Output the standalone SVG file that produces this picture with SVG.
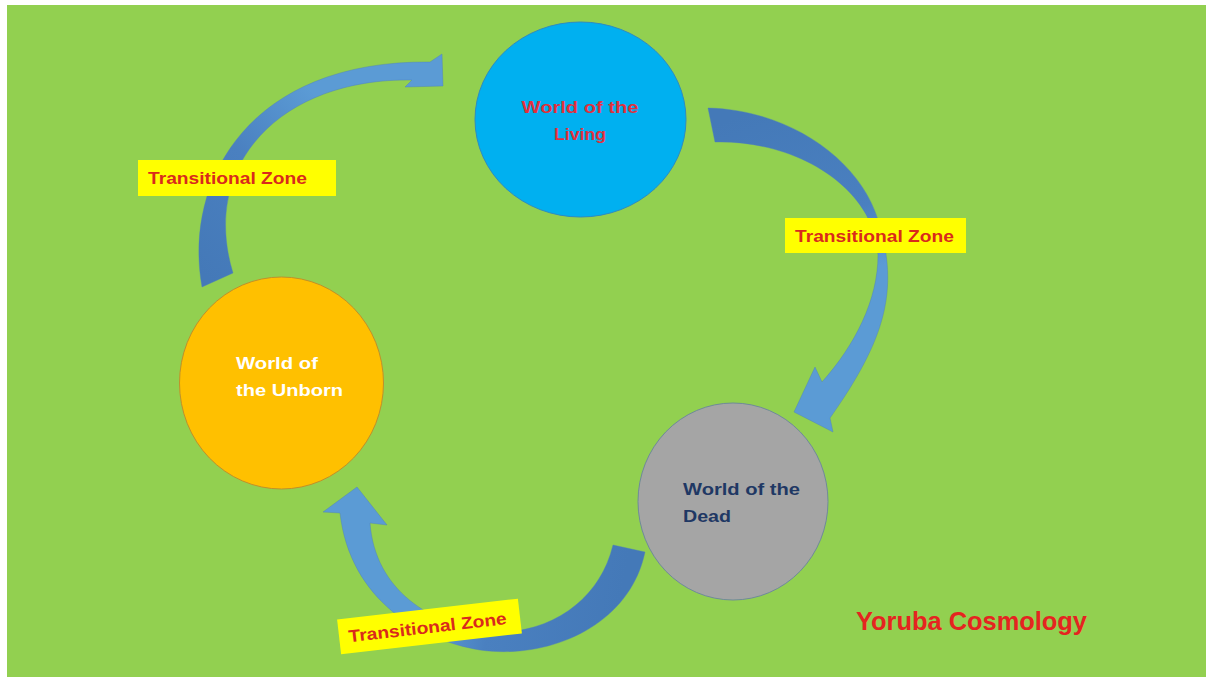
<svg xmlns="http://www.w3.org/2000/svg" width="1206" height="679" viewBox="0 0 1206 679">
<style>
.node{stroke-width:1}
.lbl{fill:#ffff00}
.lt{font-family:"Liberation Sans",Arial,sans-serif;font-weight:bold;font-size:17px;fill:#d92a1c}
.nt{font-family:"Liberation Sans",Arial,sans-serif;font-weight:bold;font-size:17px}
.arrow{stroke:#4a7ebb;stroke-width:0.8;stroke-opacity:0.5}
</style>
<defs>
<linearGradient id="g1" gradientUnits="userSpaceOnUse" x1="215" y1="285" x2="440" y2="65">
<stop offset="0" stop-color="#4479b8"/><stop offset="0.35" stop-color="#4a80c0"/><stop offset="0.65" stop-color="#5b9bd5"/><stop offset="1" stop-color="#5b9bd5"/>
</linearGradient>
<linearGradient id="g2" gradientUnits="userSpaceOnUse" x1="712" y1="125" x2="810" y2="420">
<stop offset="0" stop-color="#4479b8"/><stop offset="0.4" stop-color="#4a80c0"/><stop offset="0.6" stop-color="#5b9bd5"/><stop offset="1" stop-color="#5b9bd5"/>
</linearGradient>
<linearGradient id="g3" gradientUnits="userSpaceOnUse" x1="630" y1="550" x2="355" y2="500">
<stop offset="0" stop-color="#4479b8"/><stop offset="0.45" stop-color="#4a80c0"/><stop offset="0.65" stop-color="#5b9bd5"/><stop offset="1" stop-color="#5b9bd5"/>
</linearGradient>
</defs>
<rect x="0" y="0" width="1206" height="679" fill="#ffffff"/>
<rect x="7" y="5" width="1199" height="672" fill="#92d050"/>
<g id="connectors">
<path class="arrow" fill="url(#g1)" d="M202,287 C183,180 250,60 430,62 L442,54 L443,86 L405,87 L412,80 C280,78 200,165 233,273 Z"/>
<path class="arrow" fill="url(#g2)" d="M708,108 C790,110 860,160 878,220 C900,290 885,340 830,418 L833,432 L794,412 L815,367 L822,382 C855,345 878,300 878,255 C875,190 800,140 715,142 Z"/>
<path class="arrow" fill="url(#g3)" d="M645,552 C630,625 550,660 480,650 C420,640 350,600 340,513 L323,512 L357,487 L387,525 L370,523 C375,590 430,625 490,632 C550,635 600,600 613,545 Z"/>
</g>
<g id="label-left">
<rect class="lbl" x="138" y="160" width="198" height="36"/>
<text class="lt" x="148" y="184" textLength="159" lengthAdjust="spacingAndGlyphs">Transitional Zone</text>
</g>
<g id="label-right">
<rect class="lbl" x="785" y="218" width="181" height="35"/>
<text class="lt" x="795" y="242" textLength="159" lengthAdjust="spacingAndGlyphs">Transitional Zone</text>
</g>
<g id="label-bottom" transform="rotate(-6.6 429.5 626.5)">
<rect class="lbl" x="338.5" y="609" width="182" height="35"/>
<text class="lt" x="348" y="633" textLength="159" lengthAdjust="spacingAndGlyphs">Transitional Zone</text>
</g>
<g id="node-living">
<ellipse class="node" cx="580.5" cy="119.5" rx="105.5" ry="97.5" fill="#00b0f0" stroke="#2e8bc0"/>
<text class="nt" fill="#e0303c" x="580" y="113" text-anchor="middle" textLength="117" lengthAdjust="spacingAndGlyphs">World of the</text>
<text class="nt" fill="#e0303c" x="580" y="140" text-anchor="middle" textLength="52" lengthAdjust="spacingAndGlyphs">Living</text>
</g>
<g id="node-unborn">
<ellipse class="node" cx="281.5" cy="383" rx="102" ry="106" fill="#ffc000" stroke="#c0902a"/>
<text class="nt" fill="#ffffff" x="236" y="369" textLength="82" lengthAdjust="spacingAndGlyphs">World of</text>
<text class="nt" fill="#ffffff" x="236" y="396" textLength="107" lengthAdjust="spacingAndGlyphs">the Unborn</text>
</g>
<g id="node-dead">
<ellipse class="node" cx="733" cy="501.5" rx="95" ry="98.5" fill="#a5a5a5" stroke="#6f8a9a"/>
<text class="nt" fill="#1f3864" x="683" y="495" textLength="117" lengthAdjust="spacingAndGlyphs">World of the</text>
<text class="nt" fill="#1f3864" x="683" y="522" textLength="48" lengthAdjust="spacingAndGlyphs">Dead</text>
</g>
<g id="title">
<text x="856" y="630" font-family="'Liberation Sans',Arial,sans-serif" font-weight="bold" font-size="25" fill="#e52420" textLength="231" lengthAdjust="spacingAndGlyphs">Yoruba Cosmology</text>
</g>
</svg>
